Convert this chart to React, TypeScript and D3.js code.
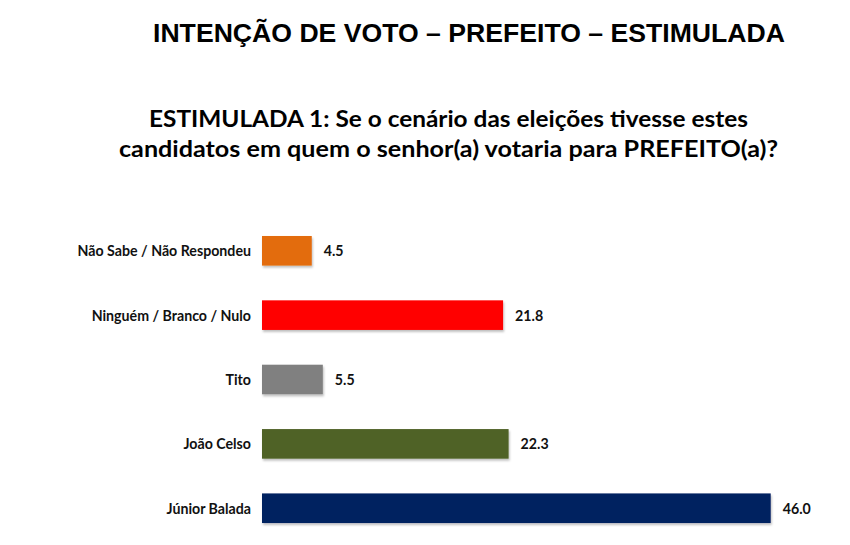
import { scaleBand, scaleLinear } from "d3";

const categories = [
  "Não Sabe / Não Respondeu",
  "Ninguém / Branco / Nulo",
  "Tito",
  "João Celso",
  "Júnior Balada",
];
const values = [4.5, 21.8, 5.5, 22.3, 46.0];
const colors = ["#E36C0A", "#FF0000", "#808080", "#4F6228", "#002060"];

const title = "INTENÇÃO DE VOTO – PREFEITO – ESTIMULADA";
const subtitle = [
  "ESTIMULADA 1: Se o cenário das eleições tivesse estes",
  "candidatos em quem o senhor(a) votaria para PREFEITO(a)?",
];

const W = 850;
const H = 545;
const font = "Lato, 'Open Sans', 'Noto Sans', sans-serif";

export default function App() {
  const x = scaleLinear().domain([0, 46]).range([262, 770.7]);
  const y = scaleBand<string>()
    .domain(categories)
    .range([218.6, 540.4])
    .paddingInner(0.54)
    .paddingOuter(0.27);

  return (
    <svg
      width={W}
      height={H}
      viewBox={`0 0 ${W} ${H}`}
      style={{ position: "absolute", left: 0, top: 0, background: "#fff" }}
    >
      <defs>
        <filter id="barShadow" x="-5%" y="-20%" width="115%" height="160%">
          <feDropShadow dx="1" dy="2" stdDeviation="1" floodColor="#000" floodOpacity="0.25" />
        </filter>
      </defs>

      {/* Titles */}
      <text
        x={153}
        y={41.7}
        textLength={632}
        lengthAdjust="spacingAndGlyphs"
        fontFamily="'Liberation Sans', Arial, sans-serif"
        fontWeight="bold"
        fontSize={26}
        fill="#000"
      >
        {title}
      </text>
      <text
        x={149}
        y={126.7}
        textLength={599}
        lengthAdjust="spacingAndGlyphs"
        fontFamily={font}
        fontWeight="bold"
        fontSize={23}
        fill="#000"
      >
        {subtitle[0]}
      </text>
      <text
        x={119}
        y={156.7}
        textLength={659}
        lengthAdjust="spacingAndGlyphs"
        fontFamily={font}
        fontWeight="bold"
        fontSize={23}
        fill="#000"
      >
        {subtitle[1]}
      </text>

      {/* Bars */}
      {categories.map((c, i) => {
        const y0 = y(c) ?? 0;
        const cy = y0 + y.bandwidth() / 2;
        return (
          <g key={c}>
            <rect
              x={x(0)}
              y={y0}
              width={x(values[i]) - x(0)}
              height={y.bandwidth()}
              fill={colors[i]}
              filter="url(#barShadow)"
            />
            <text
              x={251}
              y={cy}
              textAnchor="end"
              dominantBaseline="central"
              fontFamily={font}
              fontWeight="bold"
              fontSize={14.2}
              fill="#111"
            >
              {c}
            </text>
            <text
              x={x(values[i]) + 12}
              y={cy}
              dominantBaseline="central"
              fontFamily={font}
              fontWeight="bold"
              fontSize={14.2}
              fill="#111"
            >
              {values[i].toFixed(1)}
            </text>
          </g>
        );
      })}
    </svg>
  );
}
